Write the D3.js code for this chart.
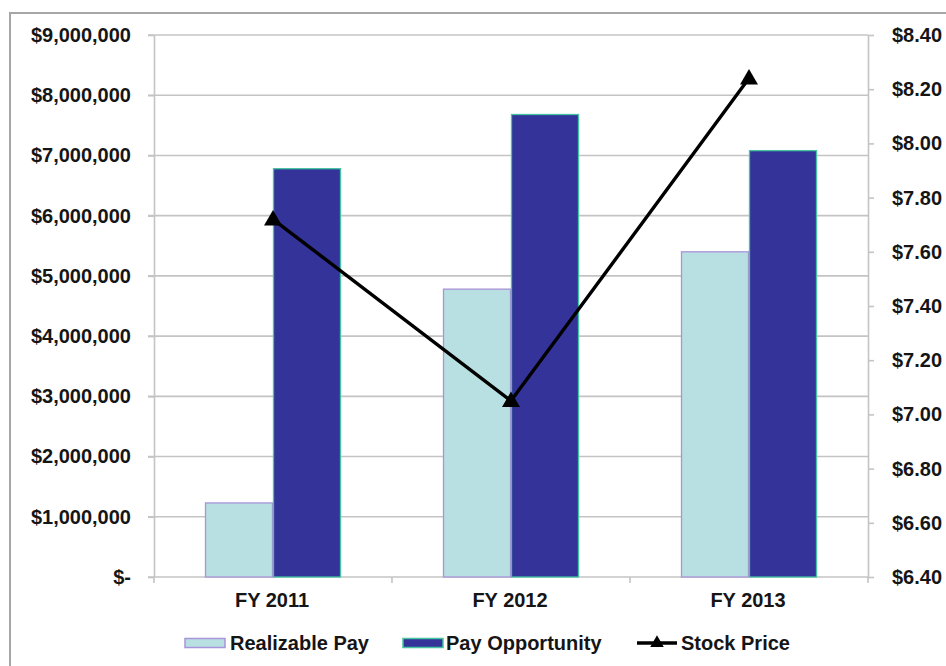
<!DOCTYPE html>
<html>
<head>
<meta charset="utf-8">
<script src="https://cdn.jsdelivr.net/npm/d3@7"></script>
<style>
  html, body { margin: 0; padding: 0; background: #fff; }
  svg { display: block; }
  text { font-family: "Liberation Sans", Arial, sans-serif; font-weight: bold; fill: #151515; }
</style>
</head>
<body>
<svg id="chart" width="946" height="666"></svg>
<script>
// ---- data ----
const categories = ["FY 2011", "FY 2012", "FY 2013"];
const seriesNames = ["Realizable Pay", "Pay Opportunity"];
const realizablePay = [1230000, 4780000, 5400000];
const payOpportunity = [6780000, 7680000, 7080000];
const stockPrice = [7.72, 7.05, 8.24];
const leftTicks = [0, 1000000, 2000000, 3000000, 4000000, 5000000, 6000000, 7000000, 8000000, 9000000];
const rightTicks = [6.4, 6.6, 6.8, 7.0, 7.2, 7.4, 7.6, 7.8, 8.0, 8.2, 8.4];
const legendLabels = ["Realizable Pay", "Pay Opportunity", "Stock Price"];

// ---- layout ----
const svg = d3.select("#chart");
const L = 154, R = 868, T = 35, B = 577;
const FS = "20px";
const fills = ["#b8e0e2", "#333399"];
const strokes = ["#a994d8", "#44c4a0"];

// outer border
svg.append("rect").attr("x", 10).attr("y", 13).attr("width", 960).attr("height", 700)
  .attr("fill", "none").attr("stroke", "#a6a6a6").attr("stroke-width", 2);

const x0 = d3.scaleBand().domain(categories).range([L, R]).padding(0);
const x1 = d3.scaleBand().domain(seriesNames).range([0, x0.bandwidth()]).paddingInner(0).paddingOuter(0.75);
const yL = d3.scaleLinear().domain([0, 9000000]).range([B, T]);
const yR = d3.scaleLinear().domain([6.4, 8.4]).range([B, T]);

// gridlines
svg.append("g").selectAll("line").data(leftTicks).join("line")
  .attr("x1", L - 6).attr("x2", R)
  .attr("y1", d => yL(d)).attr("y2", d => yL(d))
  .attr("stroke", "#c4c4c4").attr("stroke-width", 1.6);

// bars
const seriesData = [realizablePay, payOpportunity];
seriesNames.forEach((s, si) => {
  svg.append("g").selectAll("rect").data(categories).join("rect")
    .attr("x", c => x0(c) + x1(s) + 0.5)
    .attr("y", (c, i) => yL(seriesData[si][i]))
    .attr("width", x1.bandwidth() - 1)
    .attr("height", (c, i) => B - yL(seriesData[si][i]))
    .attr("fill", fills[si]).attr("stroke", strokes[si]).attr("stroke-width", 1.3);
});

// left axis
const fmtL = d => d === 0 ? "$-" : "$" + d3.format(",")(d);
const gL = svg.append("g").attr("transform", `translate(${L},0)`)
  .call(d3.axisLeft(yL).tickValues(leftTicks).tickFormat(fmtL).tickSize(6).tickSizeOuter(0).tickPadding(17));
gL.selectAll("text").style("font-size", FS);
gL.select(".domain").attr("stroke", "#c4c4c4").attr("stroke-width", 1.6);
gL.selectAll(".tick line").attr("stroke", "#c4c4c4").attr("stroke-width", 1.6);

// right axis
const gR = svg.append("g").attr("transform", `translate(${R},0)`)
  .call(d3.axisRight(yR).tickValues(rightTicks).tickFormat(d => "$" + d3.format(".2f")(d)).tickSize(6).tickSizeOuter(0).tickPadding(18));
gR.selectAll("text").style("font-size", FS);
gR.select(".domain").attr("stroke", "#c4c4c4").attr("stroke-width", 1.6);
gR.selectAll(".tick line").attr("stroke", "#c4c4c4").attr("stroke-width", 1.6);

// bottom axis: ticks at category boundaries
const gB = svg.append("g").attr("transform", `translate(0,${B})`);
const bounds = categories.map(c => x0(c)).concat([R]);
gB.selectAll("line").data(bounds).join("line")
  .attr("x1", d => d).attr("x2", d => d).attr("y1", 0).attr("y2", 6)
  .attr("stroke", "#c4c4c4").attr("stroke-width", 1.6);
gB.selectAll("text").data(categories).join("text")
  .attr("x", c => x0(c) + x0.bandwidth() / 2 - 1)
  .attr("y", 24).attr("dy", "0.32em")
  .attr("text-anchor", "middle").style("font-size", FS)
  .text(c => c);

// stock line
const px = i => x0(categories[i]) + x0.bandwidth() / 2;
const line = d3.line().x((d, i) => px(i)).y(d => yR(d));
svg.append("path").datum(stockPrice).attr("d", line)
  .attr("fill", "none").attr("stroke", "#000").attr("stroke-width", 3.4).attr("stroke-linejoin", "round");
const tri = d3.symbol().type(d3.symbolTriangle).size(140);
svg.append("g").selectAll("path").data(stockPrice).join("path")
  .attr("d", tri)
  .attr("transform", (d, i) => `translate(${px(i)},${yR(d) + 1})`)
  .attr("fill", "#000");

// legend
const lg = svg.append("g");
const ly = 643;
const legendX = [185, 403, 637];
const textX = [230, 446, 681];
[0, 1].forEach(i => {
  lg.append("rect").attr("x", legendX[i]).attr("y", ly - 4.5).attr("width", 40).attr("height", 9)
    .attr("fill", fills[i]).attr("stroke", strokes[i]).attr("stroke-width", 1.5);
});
lg.append("line").attr("x1", legendX[2]).attr("x2", legendX[2] + 40).attr("y1", ly).attr("y2", ly)
  .attr("stroke", "#000").attr("stroke-width", 3.4);
lg.append("path").attr("d", d3.symbol().type(d3.symbolTriangle).size(80))
  .attr("transform", `translate(${legendX[2] + 20},${ly})`).attr("fill", "#000");
legendLabels.forEach((t, i) => {
  lg.append("text").attr("x", textX[i]).attr("y", ly).attr("dy", "0.35em")
    .style("font-size", FS).text(t);
});
</script>
</body>
</html>
